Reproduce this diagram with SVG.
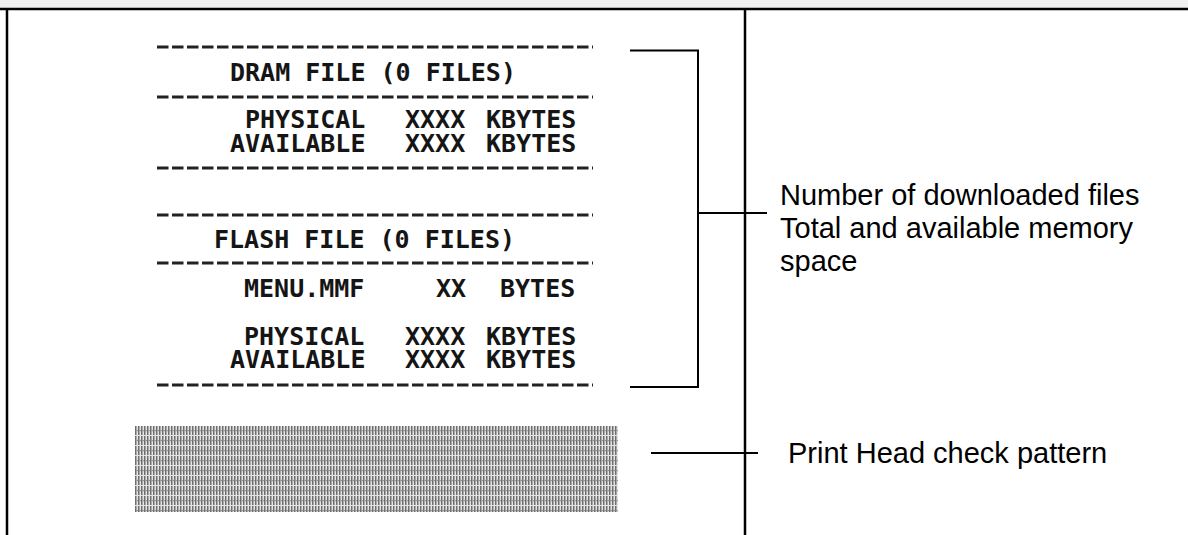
<svg xmlns="http://www.w3.org/2000/svg" width="1188" height="535" viewBox="0 0 1188 535">
<style>
.mono{font-family:"DejaVu Sans Mono","Liberation Mono",monospace;font-size:25px;font-weight:bold;fill:#151515}
.lbl{font-family:"Liberation Sans",Arial,sans-serif;font-size:29px;fill:#000}
.dash{stroke:#222;stroke-width:3;stroke-dasharray:11.5 3.5;fill:none}
.frame{stroke:#000;stroke-width:2.5;fill:none}
.conn{stroke:#000;stroke-width:2;fill:none}
</style>
<defs>
<pattern id="stripes" x="135" y="426" width="3" height="10" patternUnits="userSpaceOnUse">
<rect x="0" y="0" width="1.5" height="9" fill="#6e6e6e"/>
<rect x="1.5" y="4" width="1.5" height="1.2" fill="#9a9a9a"/>
</pattern>
</defs>
<rect x="0" y="0" width="1188" height="535" fill="#fff"/>
<rect x="0" y="0" width="1188" height="8" fill="#f0f0f0"/>
<g id="frame">
<line class="frame" x1="0" y1="9" x2="1188" y2="9"/>
<line class="frame" x1="7" y1="9" x2="7" y2="535"/>
<line class="frame" x1="745" y1="9" x2="745" y2="535"/>
</g>
<g id="printout">
<line class="dash" x1="157" y1="47" x2="593" y2="47"/>
<text class="mono" x="230" y="81">DRAM FILE (0 FILES)</text>
<line class="dash" x1="157" y1="97" x2="593" y2="97"/>
<text class="mono" x="245" y="128">PHYSICAL</text>
<text class="mono" x="405" y="128">XXXX</text>
<text class="mono" x="486" y="128">KBYTES</text>
<text class="mono" x="230" y="152">AVAILABLE</text>
<text class="mono" x="405" y="152">XXXX</text>
<text class="mono" x="486" y="152">KBYTES</text>
<line class="dash" x1="157" y1="168" x2="593" y2="168"/>
<line class="dash" x1="157" y1="215" x2="593" y2="215"/>
<text class="mono" x="214" y="248">FLASH FILE (0 FILES)</text>
<line class="dash" x1="157" y1="263" x2="593" y2="263"/>
<text class="mono" x="244" y="297">MENU.MMF</text>
<text class="mono" x="436" y="297">XX</text>
<text class="mono" x="500" y="297">BYTES</text>
<text class="mono" x="244" y="345">PHYSICAL</text>
<text class="mono" x="405" y="345">XXXX</text>
<text class="mono" x="486" y="345">KBYTES</text>
<text class="mono" x="230" y="368">AVAILABLE</text>
<text class="mono" x="405" y="368">XXXX</text>
<text class="mono" x="486" y="368">KBYTES</text>
<line class="dash" x1="157" y1="385" x2="593" y2="385"/>
</g>
<g id="check-pattern">
<rect x="135" y="426" width="483" height="86" fill="#e4e4e4"/>
<rect x="135" y="426" width="483" height="86" fill="url(#stripes)"/>
</g>
<g id="label-memory">
<text class="lbl" x="780" y="205">Number of downloaded files</text>
<text class="lbl" x="780" y="238">Total and available memory</text>
<text class="lbl" x="780" y="271">space</text>
</g>
<g id="label-pattern">
<text class="lbl" x="788" y="463">Print Head check pattern</text>
</g>
<g id="connectors">
<path class="conn" d="M630 50.5 H698 V387 H630"/>
<line class="conn" x1="698" y1="213" x2="767" y2="213"/>
<line class="conn" x1="651" y1="453" x2="758" y2="453"/>
</g>
</svg>
